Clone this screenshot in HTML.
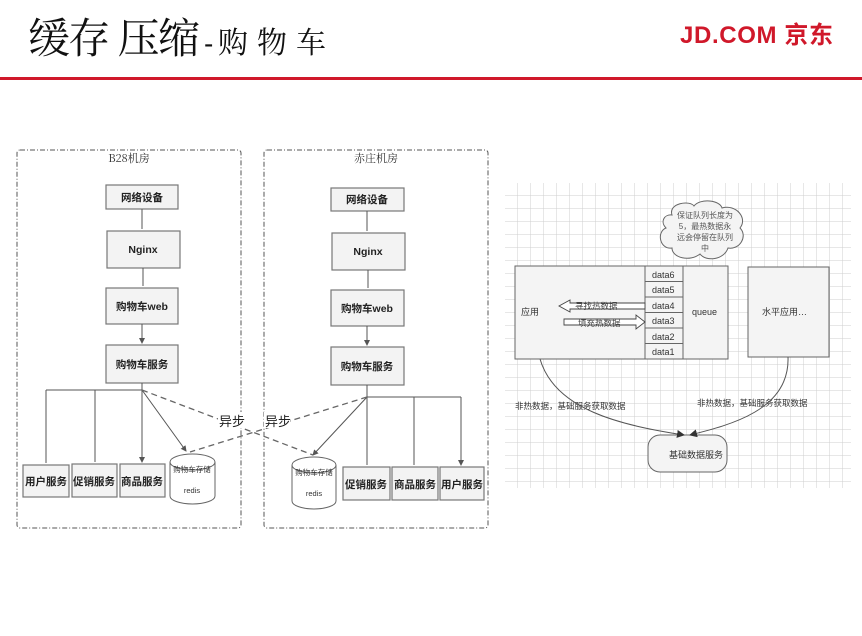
<!DOCTYPE html>
<html><head><meta charset="utf-8"><style>
html,body{margin:0;padding:0;background:#fff;}
body{width:862px;height:636px;overflow:hidden;position:relative;font-family:"Liberation Sans","Noto Sans CJK SC",sans-serif;}
</style></head><body>
<svg width="862" height="636" xmlns="http://www.w3.org/2000/svg" style="position:absolute;left:0;top:0" font-family="Liberation Sans, Noto Sans CJK SC, sans-serif">
<defs>
<pattern id="g" x="505" y="183" width="13" height="13" patternUnits="userSpaceOnUse">
<path d="M13 0V13M0 13H13" stroke="#cfcfcf" stroke-width="1" fill="none"/>
</pattern>
<marker id="a" markerWidth="6" markerHeight="6" refX="5" refY="3" orient="auto"><path d="M0,0L6,3L0,6z" fill="#555"/></marker>
<marker id="b" markerWidth="8" markerHeight="8" refX="7" refY="4" orient="auto"><path d="M0,0L8,4L0,8z" fill="#333"/></marker>
</defs>
<text x="28" y="53" font-size="42" font-family="Noto Serif CJK SC, serif" fill="#111" textLength="172">缓存 压缩</text>
<text x="204" y="53" font-size="28" fill="#111">-</text>
<text x="218" y="53" font-size="30" font-family="Noto Serif CJK SC, serif" fill="#111" textLength="108">购物车</text>
<text x="680" y="43" font-size="24" font-weight="bold" fill="#d0182a" letter-spacing="-1" textLength="152">JD.COM 京东</text>
<rect x="0" y="77" width="862" height="3" fill="#d0182a"/>

<g stroke="#555" fill="none" stroke-dasharray="5,2,1,2">
<rect x="17" y="150" width="224" height="378" rx="3"/>
<rect x="264" y="150" width="224" height="378" rx="3"/>
</g>
<g font-size="11" text-anchor="middle" fill="#333">
<text x="129" y="162" font-family="Noto Serif CJK SC, serif">B28机房</text>
<text x="376" y="162" font-family="Noto Serif CJK SC, serif">赤庄机房</text>
</g>
<g fill="#f3f3f3" stroke="#777" stroke-width="1.2">
<rect x="106" y="185" width="72" height="24"/>
<rect x="107" y="231" width="73" height="37"/>
<rect x="106" y="288" width="72" height="36"/>
<rect x="106" y="345" width="72" height="38"/>
<rect x="331" y="188" width="73" height="23"/>
<rect x="332" y="233" width="73" height="37"/>
<rect x="331" y="290" width="73" height="36"/>
<rect x="331" y="347" width="73" height="38"/>
<rect x="23" y="465" width="46" height="32"/>
<rect x="72" y="464" width="45" height="33"/>
<rect x="120" y="464" width="45" height="33"/>
<rect x="343" y="467" width="47" height="33"/>
<rect x="392" y="467" width="46" height="33"/>
<rect x="440" y="467" width="44" height="33"/>
</g>
<g font-size="10.5" text-anchor="middle" fill="#222" font-weight="bold">
<text x="142" y="201">网络设备</text>
<text x="143" y="253">Nginx</text>
<text x="142" y="310">购物车web</text>
<text x="142" y="368">购物车服务</text>
<text x="367" y="203">网络设备</text>
<text x="368" y="255">Nginx</text>
<text x="367" y="312">购物车web</text>
<text x="367" y="370">购物车服务</text>
<text x="46" y="485">用户服务</text>
<text x="94" y="485">促销服务</text>
<text x="142" y="485">商品服务</text>
<text x="366" y="488">促销服务</text>
<text x="415" y="488">商品服务</text>
<text x="462" y="488">用户服务</text>
</g>
<g stroke="#555" fill="none" stroke-width="1">
<path d="M142 209V229M143 268V286M142 324V343" marker-end="url(#a)"/>
<path d="M367 211V231M368 270V288M367 326V345" marker-end="url(#a)"/>
<path d="M142 383V390M46 390H142"/>
<path d="M46 390V463M95 390V462M142 390V462" marker-end="url(#a)"/>
<path d="M142 390L186 451" marker-end="url(#a)"/>
<path d="M367 385V397M367 397H461"/>
<path d="M367 397V465M414 397V465M461 397V465" marker-end="url(#a)"/>
<path d="M367 397L313 455" marker-end="url(#a)"/>
<path d="M142 390L313 455M367 397L190 452" stroke-dasharray="6,4" stroke="#666" stroke-width="1.3"/>
</g>
<rect x="218" y="412" width="26" height="16" fill="#fff"/>
<rect x="264" y="412" width="26" height="16" fill="#fff"/>
<text x="219" y="426" font-size="13" fill="#222">异步</text>
<text x="265" y="426" font-size="13" fill="#222">异步</text>
<g fill="#fff" stroke="#666">
<path d="M170 462V496A22.5 8 0 0 0 215 496V462"/>
<ellipse cx="192.5" cy="462" rx="22.5" ry="8"/>
<path d="M292 465V501A22 8 0 0 0 336 501V465"/>
<ellipse cx="314" cy="465" rx="22" ry="8"/>
</g>
<g font-size="7.5" text-anchor="middle" fill="#333">
<text x="192" y="472">购物车存储</text><text x="192" y="493">redis</text>
<text x="314" y="475">购物车存储</text><text x="314" y="496">redis</text>
</g>

<rect x="505" y="183" width="346" height="305" fill="url(#g)"/>
<g fill="#f4f4f4" stroke="#666">
<rect x="515" y="266" width="213" height="93"/>
<rect x="748" y="267" width="81" height="90"/>
<rect x="648" y="435" width="79" height="37" rx="12"/>
</g>
<g stroke="#666" fill="none">
<path d="M645 266V359M683 266V359M645 281.5H683M645 297H683M645 312.5H683M645 328H683M645 343.5H683"/>
</g>
<g font-size="9" fill="#333">
<text x="652" y="278">data6</text><text x="652" y="293">data5</text><text x="652" y="309">data4</text>
<text x="652" y="324">data3</text><text x="652" y="340">data2</text><text x="652" y="355">data1</text>
<text x="692" y="315">queue</text>
<text x="521" y="315">应用</text>
<text x="762" y="315">水平应用…</text>
<text x="669" y="458">基础数据服务</text>
<text x="515" y="409" font-size="8.5">非热数据，基础服务获取数据</text>
<text x="697" y="406" font-size="8.5">非热数据，基础服务获取数据</text>
</g>
<g fill="#fff" stroke="#444" stroke-width="0.9">
<path d="M645 303H570V300L559 306L570 312V309H645z"/>
<path d="M564 319H636V315L645 322L636 329V325H564z"/>
</g>
<text x="575" y="309" font-size="8.5" fill="#444">寻找热数据</text>
<text x="578" y="326" font-size="8.5" fill="#444">填充热数据</text>
<path d="M672 215C668 203 690 200 694 206C700 198 720 200 722 208C736 204 748 218 740 228C748 236 740 250 728 248C724 260 706 262 700 254C690 262 672 258 672 248C660 250 656 232 666 228C660 222 664 214 672 215z" fill="#f4f4f4" stroke="#666"/>
<g font-size="8" fill="#555" text-anchor="middle">
<text x="705" y="218">保证队列长度为</text><text x="705" y="229">5，最热数据永</text><text x="705" y="240">远会停留在队列</text><text x="705" y="251">中</text>
</g>
<g stroke="#555" fill="none">
<path d="M540 359C555 410 620 425 684 435" marker-end="url(#b)"/>
<path d="M788 357C790 410 730 425 690 435" marker-end="url(#b)"/>
</g>
</svg>
</body></html>
